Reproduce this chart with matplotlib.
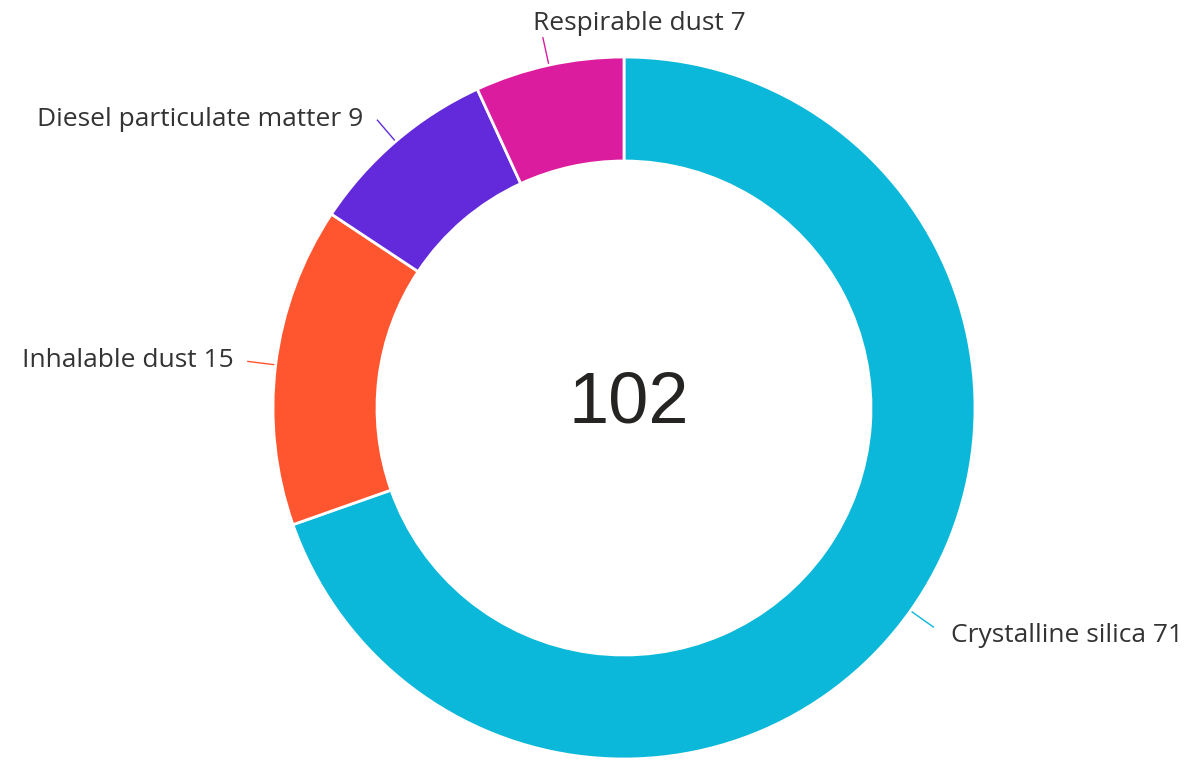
## donut chart of exposure counts by hazard
import numpy as np
import matplotlib.pyplot as plt

# data
labels = ["Crystalline silica", "Inhalable dust", "Diesel particulate matter", "Respirable dust"]
values = [71, 15, 9, 7]
colors = ["#0BB8D9", "#FF5630", "#622ADB", "#DC1C9F"]

W, H = 1194, 762
cx, cy = 624, H - 408   # donut centre in pixel coords (y up)
r_out = 351
ring = 104

fig = plt.figure(figsize=(W / 100, H / 100), dpi=100)
ax = fig.add_axes([0, 0, 1, 1])

wedges, _ = ax.pie(values, colors=colors, startangle=90, counterclock=False,
                   center=(cx, cy), radius=r_out,
                   wedgeprops=dict(width=ring, edgecolor="white", linewidth=2))

ax.set_xlim(0, W)
ax.set_ylim(0, H)
ax.set_aspect("equal")
ax.axis("off")

# total in the middle
ax.text(cx + 5, cy + 4, str(sum(values)), ha="center", va="center",
        fontsize=52, color="#252423", family="Liberation Sans")

# leader lines and labels
lead = 28
for w, lab, val, col in zip(wedges, labels, values, colors):
    ang = np.deg2rad((w.theta1 + w.theta2) / 2)
    x0, y0 = cx + (r_out + 2) * np.cos(ang), cy + (r_out + 2) * np.sin(ang)
    x1, y1 = cx + (r_out + lead) * np.cos(ang), cy + (r_out + lead) * np.sin(ang)
    ax.plot([x0, x1], [y0, y1], color=col, lw=1)
    text = f"{lab} {val}"
    if np.sin(ang) > 0.9:
        # near the top: text sits above the line end
        ax.text(x1 - 10, y1 + 2, text, ha="left", va="bottom", fontsize=19,
                color="#333333", family="Open Sans")
    elif np.cos(ang) < 0:
        ax.text(x1 - 14, y1 + 1, text, ha="right", va="center", fontsize=19,
                color="#333333", family="Open Sans")
    else:
        ax.text(x1 + 18, y1 - 9, text, ha="left", va="center", fontsize=19,
                color="#333333", family="Open Sans")

fig.savefig("out.png", dpi=100, facecolor="white")
